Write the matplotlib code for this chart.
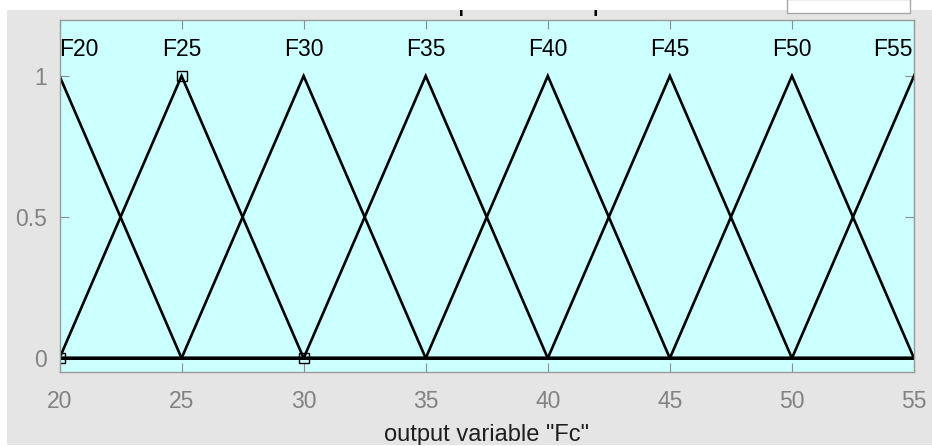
import matplotlib
matplotlib.use("Agg")
import matplotlib.pyplot as plt
from matplotlib.patches import Rectangle

plt.rcParams['font.family'] = ['Liberation Sans', 'DejaVu Sans']

# membership functions of output variable "Fc" (triangles: left foot, peak, right foot)
mf_names = ['F20', 'F25', 'F30', 'F35', 'F40', 'F45', 'F50', 'F55']
mf_params = [[15, 20, 25], [20, 25, 30], [25, 30, 35], [30, 35, 40],
             [35, 40, 45], [40, 45, 50], [45, 50, 55], [50, 55, 60]]
x_range = [20, 55]
x_ticks = [20, 25, 30, 35, 40, 45, 50, 55]
y_ticks = [0, 0.5, 1]
y_tick_labels = ['0', '0.5', '1']
selected = 1  # F25 is the selected MF (square markers)

GREY_BG = '#e5e5e5'
AX_BG = '#ccffff'
TICK_GREY = '#828282'

fig = plt.figure(figsize=(9.32, 4.46), dpi=100, facecolor=GREY_BG)

ax = fig.add_axes([59.5 / 932, 73.7 / 446, 854.5 / 932, 352.8 / 446])
ax.set_facecolor(AX_BG)

for i, (a, b, c) in enumerate(mf_params):
    xs = [x_range[0], a, b, c, x_range[1]]
    ys = [0, 0, 1, 0, 0]
    ax.plot(xs, ys, color='black', lw=1.9, solid_joinstyle='miter', clip_on=True)
    # label above the peak, kept inside the axes
    if b <= x_range[0]:
        ax.text(b, 1.095, mf_names[i], ha='left', va='center', fontsize=16.5)
    elif b >= x_range[1]:
        ax.text(b - 0.05, 1.095, mf_names[i], ha='right', va='center', fontsize=16.5)
    else:
        ax.text(b, 1.095, mf_names[i], ha='center', va='center', fontsize=16.5)

sa, sb, sc = mf_params[selected]
ax.plot([sa, sb, sc], [0, 1, 0], linestyle='none', marker='s', ms=7.5,
        mfc='none', mec='black', mew=1.0)

ax.set_xlim(x_range)
ax.set_ylim(-0.05, 1.2)
ax.set_xticks(x_ticks)
ax.set_yticks(y_ticks)
ax.set_yticklabels(y_tick_labels)
ax.tick_params(direction='in', length=6.5, width=0.8, color='#8c8c8c',
               labelcolor=TICK_GREY, labelsize=16.5, top=True, right=True,
               pad=9)
ax.tick_params(axis='x', pad=13)
for s in ax.spines.values():
    s.set_color('#9a9a9a')
    s.set_linewidth(1.0)

ax.set_xlabel('output variable "Fc"', fontsize=17, color='#1e1e1e', labelpad=8)

# title of the window, mostly hidden by the white strip above
fig.text(484 / 932, 1 - 10 / 446, 'Membership function plots', ha='center',
         va='baseline', fontsize=21, color='black', zorder=2)
# white strips around the grey panel (top, left, bottom)
for rect in [(0, 1 - 10 / 446, 1, 10 / 446),
             (0, 0, 7 / 932, 1),
             (0, 0, 1, 1 / 446)]:
    fig.patches.append(Rectangle(rect[:2], rect[2], rect[3],
                                 transform=fig.transFigure, facecolor='white',
                                 edgecolor='none', zorder=5))
# edit box at top right
fig.patches.append(Rectangle((787 / 932, 1 - 13 / 446), 123 / 932, 14 / 446,
                             transform=fig.transFigure, facecolor='white',
                             edgecolor='#a8a8a8', lw=1.0, zorder=6))

fig.savefig('out.png', dpi=100, facecolor=fig.get_facecolor())
